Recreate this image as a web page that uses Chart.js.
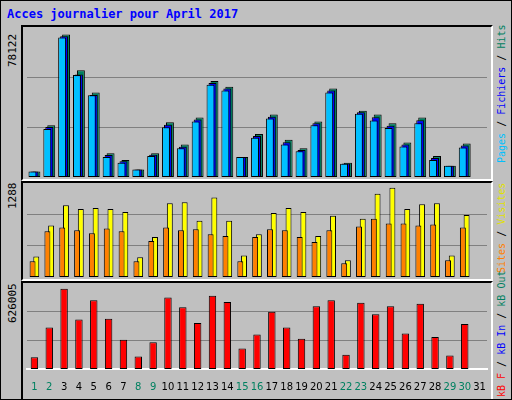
<!DOCTYPE html>
<html><head><meta charset="utf-8">
<script src="https://cdn.jsdelivr.net/npm/chart.js@4/dist/chart.umd.min.js"></script>
<style>
body{margin:0;background:#fff}
#wrap{position:relative;width:510px;height:398px;background:#c0c0c0;border:1px solid #000;font-family:"DejaVu Sans Mono",monospace;overflow:hidden}
.p{position:absolute;left:20px;width:472px;border-top:2px solid #000;border-left:2px solid #000;border-bottom:2px solid #fff;border-right:2px solid #fff;box-sizing:border-box}
.t{position:absolute;white-space:nowrap;font-size:11px}
.r{transform-origin:0 0;transform:rotate(-90deg)}
</style></head><body>
<div id="wrap">
<div class="t" style="left:6px;top:6px;color:#0000ff;font-weight:bold;font-size:12px">Acces journalier pour April 2017</div>
<div class="p" style="top:24px;height:156px"><canvas id="c1"></canvas></div>
<div class="p" style="top:180px;height:100px"><canvas id="c2"></canvas></div>
<div class="p" style="top:280px;height:118px;border-bottom:none"><canvas id="c3"></canvas></div>
<div class="t r" style="left:5px;top:66px">78122</div>
<div class="t r" style="left:5px;top:208px">1288</div>
<div class="t r" style="left:5px;top:322px">626005</div>
<div class="t r" style="left:495px;top:162px;font-size:10px"><span style="color:#00c0ff">Pages</span> / <span style="color:#0000ff">Fichiers</span> / <span style="color:#008060">Hits</span></div>
<div class="t r" style="left:495px;top:272px;font-size:10px"><span style="color:#ff8000">Sites</span> / <span style="color:#e0e000">Visites</span></div>
<div class="t r" style="left:495px;top:396px;font-size:10px"><span style="color:#ff0000">kB F</span> / <span style="color:#0000ff">kB In</span> / <span style="color:#008060">kB Out</span></div>
</div>
<script>
var days = [];
for (var i = 1; i <= 31; i++) days.push(String(i));
var weekend = [1,2,8,9,15,16,22,23,29,30];

var hits  = [2950,27780,76420,57280,45380,12780,9160,3980,12780,29340,17440,31920,51580,48480,10710,23130,33480,20020,15370,29850,47450,7610,35550,33480,28820,18470,31920,11230,6050,17950,0];
var files = [2950,26800,75600,55000,44000,11800,8400,3980,12000,28000,16300,30800,50500,47500,10710,22000,32400,18700,14500,28800,46400,7300,34700,32000,27500,17400,30400,10200,6050,16900,0];
var pages = [2950,25710,74870,54690,43820,10710,7610,3980,11230,26750,15370,29850,49520,46410,10710,21060,31410,17440,13810,27780,45380,7090,33990,30370,26230,16400,28820,9160,6050,15880,0];
var visits = [285,712,993,940,953,940,900,272,552,1020,1033,779,1100,779,298,592,886,953,900,566,846,232,806,1153,1233,940,1006,1020,298,859,0];
var sites  = [218,632,686,646,606,672,632,218,499,686,646,659,592,566,218,552,659,646,552,485,646,191,699,806,739,739,712,726,232,686,0];
var kbytes = [85760,304450,587460,362340,503840,368770,214400,92190,195100,523140,452380,336610,536000,490980,150080,252990,420220,304450,220830,458820,503840,105060,484540,400930,458820,259420,478110,233700,98620,330180,0];

function yAxis(max){
  return {min:0,max:max,display:true,
    afterFit:function(s){s.width=0;},
    afterBuildTicks:function(s){s.ticks=[{value:max/3},{value:2*max/3}];},
    ticks:{display:false},border:{display:false},
    grid:{color:'#808080',lineWidth:1,drawTicks:false}};
}
function ds(data,color,cat,bar,order){
  return {data:data,backgroundColor:color,borderColor:'#000',borderWidth:1,order:order,
    categoryPercentage:cat,barPercentage:bar,borderSkipped:false};
}
var common = {responsive:true,maintainAspectRatio:false,animation:false,
  layout:{padding:{left:4,right:4,top:0,bottom:2}},
  plugins:{legend:{display:false},tooltip:{enabled:false}}};

new Chart(document.getElementById('c1'), {
  type:'bar',
  data:{labels:days,datasets:[ds(hits,'#008060',0.4,4,3),ds(files,'#0000ff',0.4,4,2),ds(pages,'#00c0ff',0.4,4,1)]},
  options:Object.assign({},common,{scales:{x:{display:false},y:yAxis(80500)}})
});
new Chart(document.getElementById('c2'), {
  type:'bar',
  data:{labels:days,datasets:[ds(visits,'#ffff00',0.5,1.6,2),ds(sites,'#ff8000',0.5,1.6,1)]},
  options:Object.assign({},common,{scales:{x:{display:false},y:yAxis(1300)}})
});
new Chart(document.getElementById('c3'), {
  type:'bar',
  data:{labels:days,datasets:[ds(kbytes,'#ff0000',0.5,1,1)]},
  options:Object.assign({},common,{scales:{
    x:{grid:{display:false},border:{color:'#fff',width:2},
      ticks:{padding:4,font:{family:'DejaVu Sans',size:10},maxRotation:0,autoSkip:false,
        color:function(c){return weekend.indexOf(c.index+1)>=0?'#008060':'#000';}}},
    y:yAxis(630000)}})
});
</script>
</body></html>
